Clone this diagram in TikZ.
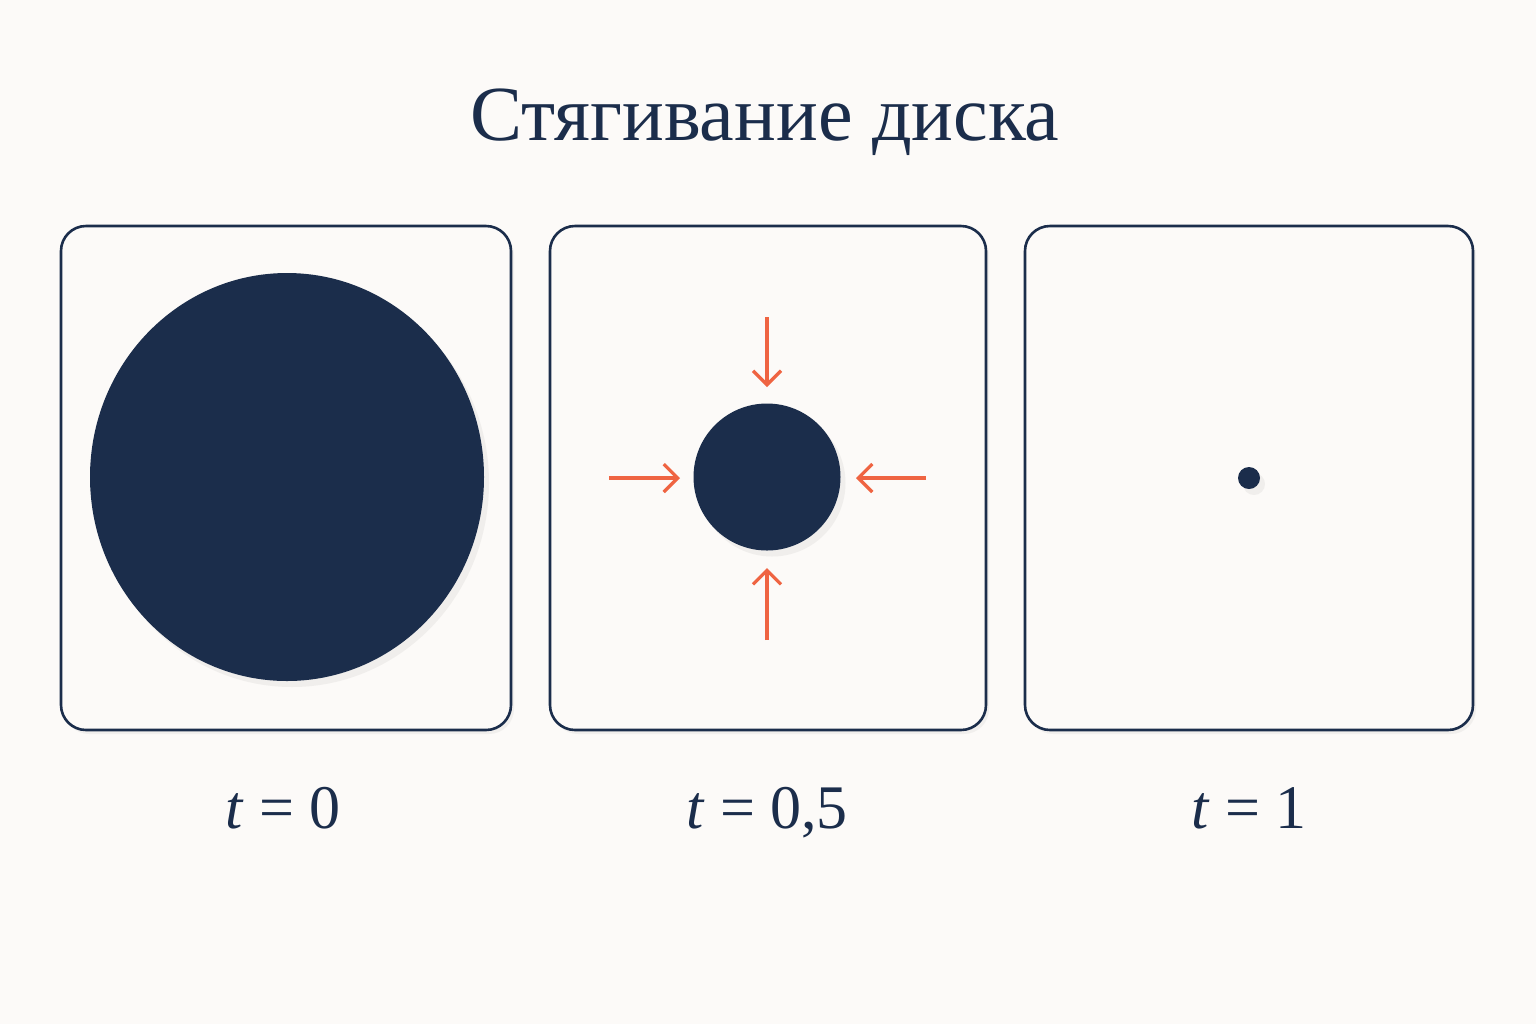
\documentclass[tikz,border=0pt]{standalone}
\usepackage{fontspec}
\setmainfont{Liberation Serif}
\usetikzlibrary{arrows.meta,shadows,shapes.geometric}
\definecolor{navy}{HTML}{1B2D4B}
\definecolor{accent}{HTML}{EF6442}
\definecolor{bg}{HTML}{FCFAF8}
\tikzset{
  panel/.style={draw=navy,line width=1.3pt,rounded corners=12.5pt,fill=bg,
    drop shadow={shadow xshift=1.5pt,shadow yshift=-2pt,opacity=0.07,fill=black!60}},
  disc/.style={fill=navy,draw=none,
    drop shadow={shadow xshift=2.5pt,shadow yshift=-3pt,opacity=0.08,fill=black!60}},
  squeeze/.style={draw=accent,line width=1.6pt,-{Straight Barb[length=7pt,width=14pt,line width=1.6pt]}},
  lbl/.style={text=navy,font=\fontsize{31}{36}\selectfont,anchor=base},
  ttl/.style={text=navy,font=\fontsize{39}{46}\selectfont,anchor=base}
}
\begin{document}
\begin{tikzpicture}[x=0.5pt,y=-0.5pt]
\fill[bg] (0,0) rectangle (1536,1024);
\useasboundingbox (0,0) rectangle (1536,1024);
\node[ttl] (title) at (765,140) {Стягивание диска};
% panels
\draw[panel] (61,226) rectangle (511,730);
\draw[panel] (550,226) rectangle (986,730);
\draw[panel] (1025,226) rectangle (1473,730);
% discs
\node[disc,ellipse,minimum width=197pt,minimum height=204pt,inner sep=0pt] (big) at (287,477) {};
\node[disc,circle,minimum size=73.5pt,inner sep=0pt] (mid) at (767,477) {};
\node[disc,circle,minimum size=11pt,inner sep=0pt] (pt) at (1249,478) {};
% arrows
\coordinate (nS) at (767,317); \coordinate (nE) at (767,387);
\coordinate (sS) at (767,640); \coordinate (sE) at (767,568);
\coordinate (wS) at (609,478); \coordinate (wE) at (680,478);
\coordinate (eS) at (926,478); \coordinate (eE) at (856,478);
\draw[squeeze] (nS) -- (nE);
\draw[squeeze] (sS) -- (sE);
\draw[squeeze] (wS) -- (wE);
\draw[squeeze] (eS) -- (eE);
% labels
\node[lbl] (l0) at (283,828) {\textit{t} = 0};
\node[lbl] (l1) at (767,828) {\textit{t} = 0,5};
\node[lbl] (l2) at (1249,828) {\textit{t} = 1};
\end{tikzpicture}
\end{document}
